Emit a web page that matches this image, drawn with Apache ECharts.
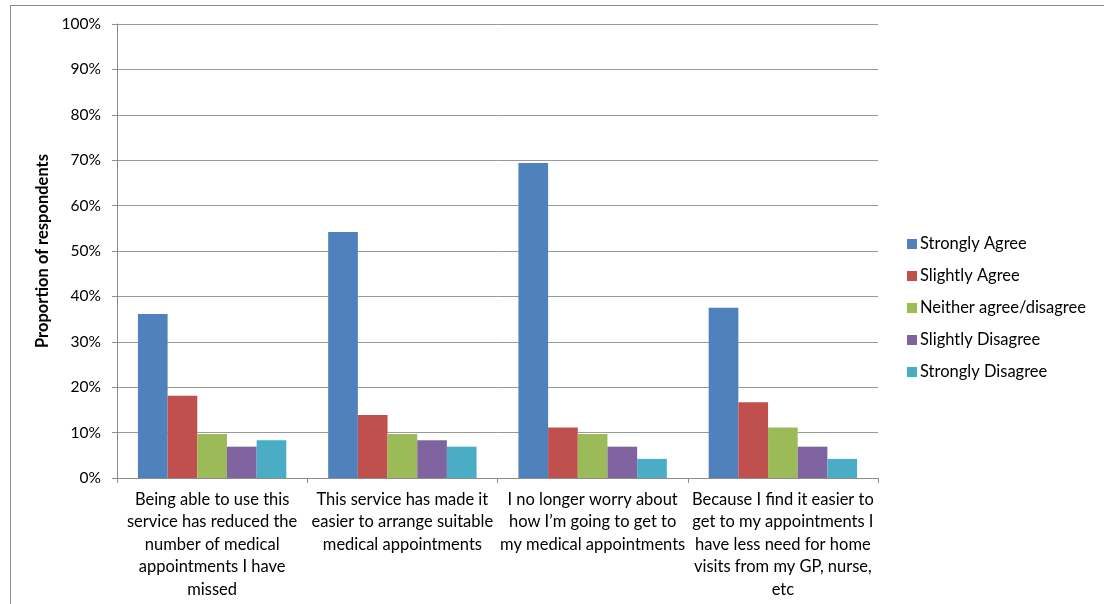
<!DOCTYPE html>
<html>
<head>
<meta charset="utf-8">
<script src="https://cdn.jsdelivr.net/npm/echarts@6/dist/echarts.min.js"></script>
<style>
html,body{margin:0;padding:0;background:#fff;overflow:hidden;}
#frame{position:absolute;left:10px;top:5px;width:1100px;height:610px;border:1px solid #8c8c8c;box-sizing:border-box;}
#chart{position:absolute;left:0;top:0;width:1104px;height:604px;}
</style>
</head>
<body>
<div id="frame"></div>
<div id="chart"></div>
<script>
const categories = [
  "Being able to use this\nservice has reduced the\nnumber of medical\nappointments I have\nmissed",
  "This service has made it\neasier to arrange suitable\nmedical appointments",
  "I no longer worry about\nhow I\u2019m going to get to\nmy medical appointments",
  "Because I find it easier to\nget to my appointments I\nhave less need for home\nvisits from my GP, nurse,\netc"
];
const seriesNames = ["Strongly Agree", "Slightly Agree", "Neither agree/disagree", "Slightly Disagree", "Strongly Disagree"];
const stronglyAgree = [36.1, 54.2, 69.4, 37.5];
const slightlyAgree = [18.1, 13.9, 11.1, 16.7];
const neither = [9.7, 9.7, 9.7, 11.1];
const slightlyDisagree = [6.9, 8.3, 6.9, 6.9];
const stronglyDisagree = [8.3, 6.9, 4.2, 4.2];
const colors = ["#4F81BD", "#C0504D", "#9BBB59", "#8064A2", "#4BACC6"];
const yTicks = { min: 0, max: 100, interval: 10 };

const FONT = "Lato, 'Open Sans', sans-serif";
const values = [stronglyAgree, slightlyAgree, neither, slightlyDisagree, stronglyDisagree];

const chart = echarts.init(document.getElementById('chart'), null, { renderer: 'canvas' });
chart.setOption({
  animation: false,
  textStyle: { fontFamily: FONT },
  grid: { left: 117, right: 226, top: 24, bottom: 126, containLabel: false },
  legend: {
    orient: 'vertical',
    left: 902,
    top: 230,
    itemWidth: 10,
    itemHeight: 10,
    itemGap: 14,
    icon: 'rect',
    textStyle: { fontFamily: FONT, fontSize: 16.5, color: '#000', lineHeight: 18, padding: [0, 0, 0, -2] },
    data: seriesNames
  },
  xAxis: {
    type: 'category',
    data: categories,
    axisLine: { show: true, lineStyle: { color: '#8c8c8c', width: 1 } },
    axisTick: { show: true, alignWithLabel: false, length: 5, lineStyle: { color: '#8c8c8c' } },
    axisLabel: { interval: 0, fontFamily: FONT, fontSize: 16.5, color: '#000', lineHeight: 22.5, margin: 10 }
  },
  yAxis: {
    type: 'value',
    min: yTicks.min,
    max: yTicks.max,
    interval: yTicks.interval,
    name: 'Proportion of respondents',
    nameLocation: 'middle',
    nameGap: 66,
    nameRotate: 90,
    nameTextStyle: { fontFamily: FONT, fontSize: 16.5, fontWeight: 'bold', color: '#000' },
    axisLine: { show: true, lineStyle: { color: '#8c8c8c', width: 1 } },
    axisTick: { show: true, length: 5, lineStyle: { color: '#8c8c8c' } },
    axisLabel: { formatter: '{value}%', fontFamily: FONT, fontSize: 15.5, color: '#000', margin: 16 },
    splitLine: { show: true, lineStyle: { color: '#9a9a9a', width: 1 } }
  },
  series: seriesNames.map((name, i) => ({
    name: name,
    type: 'bar',
    data: values[i],
    barGap: '0%',
    barCategoryGap: '22%',
    itemStyle: { color: colors[i] }
  }))
});
</script>
</body>
</html>
